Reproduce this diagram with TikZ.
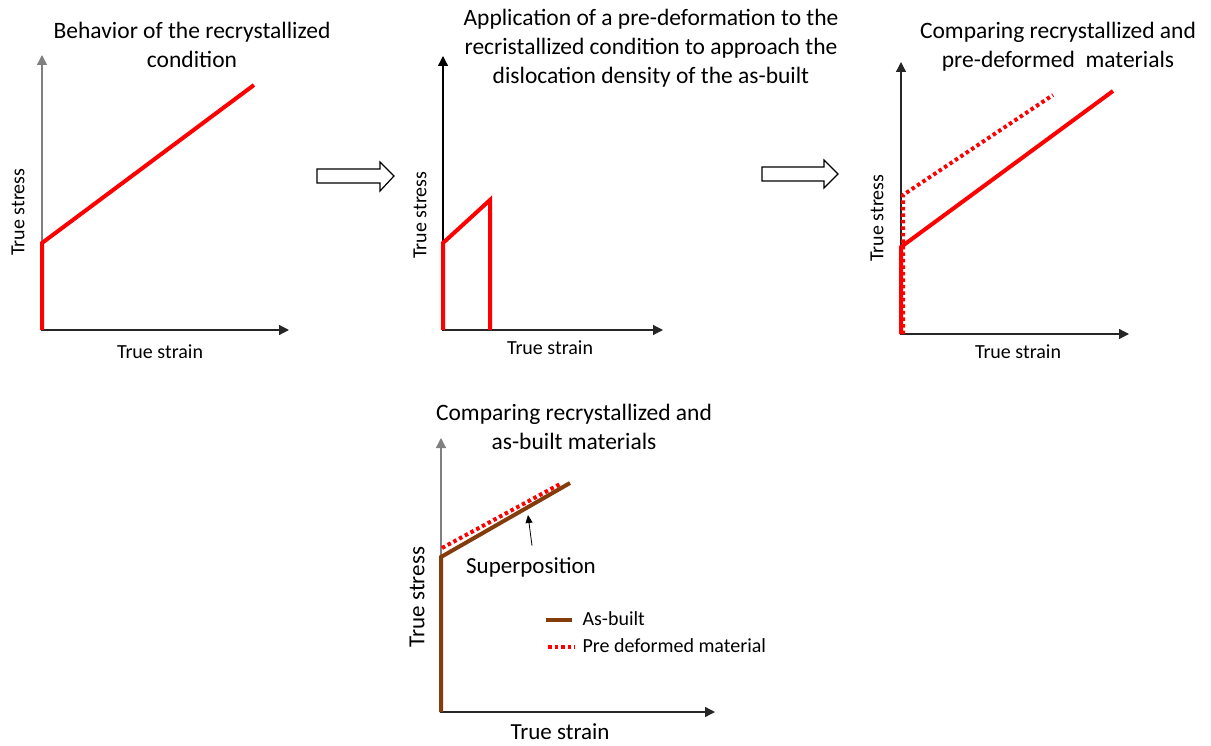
\documentclass[tikz,border=0pt]{standalone}
\usepackage{fontspec}
\setmainfont{Carlito}
\usetikzlibrary{arrows.meta}
\definecolor{asbuiltbrown}{RGB}{133,60,12}

\begin{document}
\begin{tikzpicture}[x=1pt,y=-1pt,
  axis/.style={black!85, line width=1.3pt, -{Triangle[width=10pt,length=10pt]}},
  recryst/.style={red, line width=4pt},
  predef/.style={red, line width=4pt, dash pattern=on 3.5pt off 3pt},
  asbuilt/.style={asbuiltbrown, line width=4pt},
  blockarrow/.style={draw=black, line width=1.2pt, fill=white},
  titletext/.style={align=center, font=\fontsize{23.5}{29}\selectfont},
  axislabel/.style={font=\fontsize{20}{24}\selectfont},
  biglabel/.style={font=\fontsize{23}{28}\selectfont}]
\useasboundingbox (0,0) rectangle (1211,746);

%%%%%%%%% panel 1 : recrystallized
\draw[axis, draw=gray] (42,331) -- (42,55);
\draw[axis] (41,330) -- (289,330);
\draw[recryst] (42,330) -- (42,243) -- (254,85);
\node[titletext] (title1) at (192,44.5) {Behavior of the recrystallized\\condition};
\node[axislabel, rotate=90] (stress1) at (18,212) {True stress};
\node[axislabel] (strain1) at (160,352) {True strain};

%%%%%%%%% arrow 1
\draw[blockarrow] (317,169) -- (380,169) -- (380,162) -- (394,176)
                  -- (380,191) -- (380,183) -- (317,183) -- cycle;

%%%%%%%%% panel 2 : pre-deformation
\draw[axis, draw=black] (443,331) -- (443,56);
\draw[axis] (442,330) -- (663,330);
\draw[recryst] (443,330) -- (443,243) -- (490,200) -- (490,330);
\node[titletext] (title2) at (651,48.5)
  {Application of a pre-deformation to the\\recristallized condition to approach the\\dislocation density of the as-built};
\node[axislabel, rotate=90] (stress2) at (420,215) {True stress};
\node[axislabel] (strain2) at (550,348) {True strain};

%%%%%%%%% arrow 2
\draw[blockarrow] (762,167) -- (824,167) -- (824,160) -- (838,174)
                  -- (824,188) -- (824,181) -- (762,181) -- cycle;

%%%%%%%%% panel 3 : recrystallized vs pre-deformed
\draw[axis] (901,335) -- (901,62);
\draw[axis] (900,334) -- (1129,334);
\draw[recryst] (901,334) -- (901,247) -- (1113,91);
\draw[predef] (903,334) -- (903,195) -- (1053,95);
\node[titletext] (title3) at (1058,46.5) {Comparing recrystallized and\\pre-deformed\ \ materials};
\node[axislabel, rotate=90] (stress3) at (877,218) {True stress};
\node[axislabel] (strain3) at (1018,352) {True strain};

%%%%%%%%% panel 4 : recrystallized vs as-built
\draw[axis, draw=gray] (441,713) -- (441,438);
\draw[axis] (440,712) -- (715,712);
\draw[asbuilt] (441,712) -- (441,557) -- (570,483);
\draw[predef] (442,548) -- (562,483);
\node[titletext] (title4) at (574,427) {Comparing recrystallized and\\as-built materials};
\node[biglabel, rotate=90] (stress4) at (417,597) {True stress};
\node[biglabel] (strain4) at (560,732) {True strain};
\node[biglabel] (superpos) at (531,567) {Superposition};
\coordinate (superpostip) at (528,515);
\draw[black, line width=0.8pt, -{Triangle[width=7pt,length=8pt]}] (superpos.north) ++(1,-8) -- (superpostip);

%%%%%%%%% legend
\draw[asbuilt] (546,620) -- (572,620);
\node[axislabel, anchor=west] (leg1) at (579,619) {As-built};
\draw[predef] (548,647) -- (575,647);
\node[axislabel, anchor=west] (leg2) at (579,646) {Pre deformed material};

\end{tikzpicture}
\end{document}
